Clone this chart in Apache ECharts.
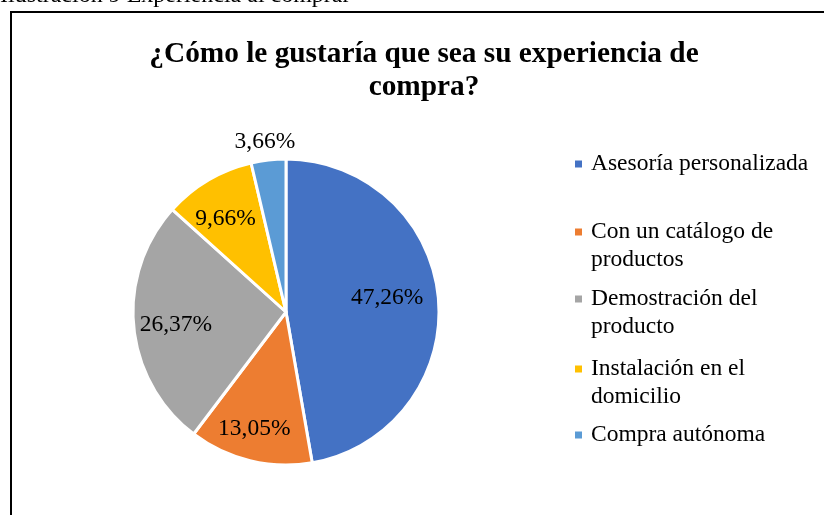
<!DOCTYPE html>
<html>
<head>
<meta charset="utf-8">
<script src="https://cdn.jsdelivr.net/npm/echarts@6/dist/echarts.min.js"></script>
<style>
  html, body { margin: 0; padding: 0; background: #fff; }
  #chart { width: 824px; height: 515px; }
</style>
</head>
<body>
<div id="chart"></div>
<script>
// datos del gráfico
const categories = [
  'Asesoría personalizada',
  'Con un catálogo de productos',
  'Demostración del producto',
  'Instalación en el domicilio',
  'Compra autónoma'
]
const values = [47.26, 13.05, 26.37, 9.66, 3.66]
// texto de leyenda partido en líneas (como en el original)
const legendText = [
  'Asesoría personalizada',
  'Con un catálogo de\nproductos',
  'Demostración del\nproducto',
  'Instalación en el\ndomicilio',
  'Compra autónoma'
]
const colors = ['#4472C4', '#ED7D31', '#A5A5A5', '#FFC000', '#5B9BD5']

// desplazamiento de etiquetas respecto a la posición "inside"
const labelShift = [[22, -7], [-13, 40], [-31, 5], [-20, -25], [-12, -91]]
const legendTops = [150, 190, 257, 327, 421]

const font = '"Liberation Serif", "Times New Roman", serif'
const chart = echarts.init(document.getElementById('chart'))

const legends = categories.map((name, i) => {
  let lines = legendText[i].split('\n')
  // una línea en blanco arriba para que el icono quede junto a la primera línea
  if (lines.length > 1) lines = [''].concat(lines)
  const txt = lines.map((l) => '{p|}' + l).join('\n')
  return {
    data: [name],
    left: 575,
    top: legendTops[i],
    padding: 0,
    icon: 'rect',
    itemWidth: 7,
    itemHeight: 7,
    itemGap: 0,
    itemStyle: { borderWidth: 0 },
    selectedMode: false,
    formatter: () => txt,
    textStyle: {
      fontFamily: font,
      fontSize: 23.5,
      lineHeight: 28,
      color: '#000',
      rich: {
        p: { width: 4, lineHeight: 28 }
      }
    }
  }
})

const option = {
  animation: false,
  backgroundColor: '#fff',
  color: colors,
  title: {
    text: '¿Cómo le gustaría que sea su experiencia de\ncompra?',
    left: 419,
    textAlign: 'center',
    top: 33,
    textStyle: {
      fontFamily: font,
      fontWeight: 'bold',
      fontSize: 29.3,
      lineHeight: 33,
      color: '#000'
    }
  },
  legend: legends,
  graphic: [
    {
      type: 'text',
      left: 0,
      top: -16,
      style: {
        text: 'Ilustración 9 Experiencia al comprar',
        font: '24px ' + font,
        fill: '#000'
      }
    },
    {
      type: 'rect',
      shape: { x: 11, y: 12, width: 830, height: 520 },
      style: { fill: 'none', stroke: '#000', lineWidth: 2 }
    }
  ],
  series: [
    {
      type: 'pie',
      center: [286, 312],
      radius: 153,
      startAngle: 90,
      clockwise: true,
      itemStyle: { borderColor: '#fff', borderWidth: 3 },
      label: {
        show: true,
        position: 'inside',
        fontFamily: font,
        fontSize: 23.5,
        color: '#000',
        formatter: (p) => p.value.toFixed(2).replace('.', ',') + '%'
      },
      labelLine: { show: false },
      labelLayout: (p) => ({ dx: labelShift[p.dataIndex][0], dy: labelShift[p.dataIndex][1] }),
      emphasis: { disabled: true },
      data: categories.map((name, i) => ({ name: name, value: values[i] }))
    }
  ]
}

chart.setOption(option)
</script>
</body>
</html>
